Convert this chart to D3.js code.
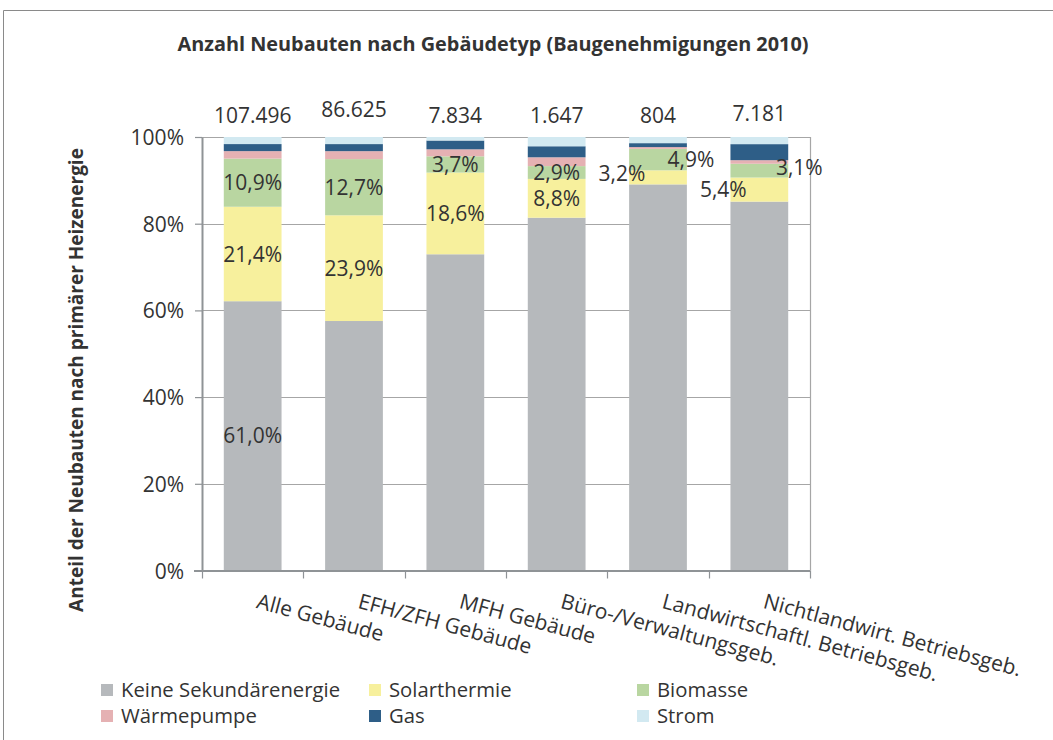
<!DOCTYPE html>
<html><head><meta charset="utf-8">
<script src="https://cdn.jsdelivr.net/npm/d3@7"></script>
<style>
body{margin:0;background:#fff}
text{font-family:'Open Sans',sans-serif;fill:#333}
</style>
</head><body>
<svg id="chart" width="1053" height="740"></svg>
<script>
// ---- data ----
const categories = ["Alle Gebäude","EFH/ZFH Gebäude","MFH Gebäude","Büro-/Verwaltungsgeb.","Landwirtschaftl. Betriebsgeb.","Nichtlandwirt. Betriebsgeb."];
const totals = [107496, 86625, 7834, 1647, 804, 7181];
const seriesNames = ["Keine Sekundärenergie","Solarthermie","Biomasse","Wärmepumpe","Gas","Strom"];
const keine      = [61.0, 56.4, 72.0, 80.0, 88.0, 82.8];
const solar      = [21.4, 23.9, 18.6,  8.8,  3.2,  5.4];
const biomasse   = [10.9, 12.7,  3.7,  2.9,  4.9,  3.1];
const waerme     = [ 1.7,  1.8,  1.6,  2.0,  0.4,  0.8];
const gas        = [ 1.6,  1.6,  2.0,  2.5,  0.9,  3.6];
const strom      = [ 1.6,  1.6,  0.8,  2.1,  1.4,  1.6];
const yTickValues = [0, 0.2, 0.4, 0.6, 0.8, 1.0];
const labelKeine = [true, false, false, false, false, false];
const labelSolar = [true, true, true, true, true, true];
const labelBio   = [true, true, true, true, true, true];

const titleText = "Anzahl Neubauten nach Gebäudetyp (Baugenehmigungen 2010)";
const yTitleText = "Anteil der Neubauten nach primärer Heizenergie";

// ---- styling / layout ----
const colors = ["#b6b9bc","#f7f09d","#b9d6a1","#e5b1b3","#2e5e87","#d2e9f1"];
const labelNudge = {"4|1":[-36,-4], "4|2":[33,0], "5|1":[-36,0], "5|2":[40,-3]};
const totalDy = [0,-6,0,0,0,-2];

const seriesValues = [keine, solar, biomasse, waerme, gas, strom];
const seriesLabels = [labelKeine, labelSolar, labelBio, null, null, null];

const loc = d3.formatLocale({decimal:",", thousands:".", grouping:[3], currency:["","€"]});
const fmtTotal = loc.format(",d");
const fmtPct = v => loc.format(".1f")(v) + "%";

const svg = d3.select("#chart");
const X0 = 202, X1 = 810, Y0 = 570.5, Y1 = 137;

// outer frame
svg.append("path").attr("d","M3.5,740 V10.5 H1053").attr("fill","none").attr("stroke","#8a8a8a").attr("stroke-width",1);

const x = d3.scaleBand().domain(categories).range([X0, X1]).paddingInner(0.43).paddingOuter(0.215);
const y = d3.scaleLinear().domain([0,1]).range([Y0, Y1]);

const rows = categories.map((c,i) => {
  const r = {cat:c};
  seriesNames.forEach((s,k) => r[s] = seriesValues[k][i]);
  return r;
});
const stacked = d3.stack().keys(seriesNames).offset(d3.stackOffsetExpand)(rows);

// gridlines
svg.append("g").selectAll("line").data(yTickValues.filter(d=>d>0)).join("line")
  .attr("x1", X0).attr("x2", X1).attr("y1", d=>Math.round(y(d))+0.5).attr("y2", d=>Math.round(y(d))+0.5)
  .attr("stroke","#a6a6a6").attr("stroke-width",1.2);
// right border of plot
svg.append("line").attr("x1",X1+0.5).attr("x2",X1+0.5).attr("y1",y(1)).attr("y2",Y0)
  .attr("stroke","#a6a6a6").attr("stroke-width",1.2);

// bars
const gBars = svg.append("g");
stacked.forEach((layer, k) => {
  gBars.append("g").attr("fill", colors[k]).selectAll("rect").data(layer).join("rect")
    .attr("x", d => x(d.data.cat))
    .attr("width", x.bandwidth())
    .attr("y", d => y(d[1]))
    .attr("height", d => y(d[0]) - y(d[1]));
});

// y axis
const yAxis = d3.axisLeft(y).tickValues(yTickValues).tickFormat(d3.format(".0%")).tickSizeInner(7).tickSizeOuter(0).tickPadding(11);
const gy = svg.append("g").attr("transform",`translate(${X0},0)`).call(yAxis);
gy.select(".domain").attr("stroke","#8f9396").attr("stroke-width",2);
gy.selectAll(".tick line").attr("stroke","#8f9396").attr("stroke-width",1.2);
gy.selectAll(".tick text").style("font-family","'Open Sans',sans-serif").style("font-size","21px").attr("fill","#333").attr("dy","0.36em");

// x axis line + ticks at band boundaries
const step = x.step();
const bounds = categories.map(c => x(c) - step*x.paddingInner()/2).concat([X1]);
svg.append("line").attr("x1",X0-8).attr("x2",X1).attr("y1",Y0+0.5).attr("y2",Y0+0.5).attr("stroke","#8f9396").attr("stroke-width",2);
svg.append("g").selectAll("line").data(bounds).join("line")
  .attr("x1",d=>Math.round(d)+0.5).attr("x2",d=>Math.round(d)+0.5).attr("y1",Y0).attr("y2",Y0+8)
  .attr("stroke","#8f9396").attr("stroke-width",1.2);

// x labels
svg.append("g").selectAll("text").data(categories).join("text")
  .attr("transform", d => `translate(${x(d)+x.bandwidth()/2+7},${Y0+22}) rotate(15)`)
  .attr("dy","0.75em")
  .style("font-size","21px")
  .text(d=>d);

// segment labels
stacked.forEach((layer,k) => {
  const show = seriesLabels[k];
  if (!show) return;
  layer.forEach((d,i) => {
    if (!show[i]) return;
    const n = labelNudge[i+"|"+k] || [0,0];
    svg.append("text")
      .attr("x", x(d.data.cat) + x.bandwidth()/2 + n[0])
      .attr("y", (y(d[0]) + y(d[1]))/2 + n[1])
      .attr("dy","0.36em")
      .attr("text-anchor","middle")
      .style("font-size","21px")
      .text(fmtPct(seriesValues[k][i]));
  });
});

// totals
svg.append("g").selectAll("text").data(categories).join("text")
  .attr("x", d => x(d) + x.bandwidth()/2)
  .attr("y", (d,i) => 123 + totalDy[i])
  .attr("text-anchor","middle")
  .style("font-size","21px")
  .text((d,i) => fmtTotal(totals[i]));

// title
function fitWidth(sel, w){
  const len = sel.node().getComputedTextLength();
  const fs = parseFloat(sel.style("font-size"));
  sel.style("font-size", (fs*w/len).toFixed(2)+"px");
}
const title = svg.append("text").attr("x",493).attr("y",51).attr("text-anchor","middle")
  .style("font-size","18px").style("font-weight","bold").attr("fill","#262626").text(titleText);
fitWidth(title, 631);

const yTitle = svg.append("text").attr("transform","translate(83,380) rotate(-90)").attr("text-anchor","middle")
  .style("font-size","18px").style("font-weight","bold").attr("fill","#262626").text(yTitleText);
fitWidth(yTitle, 464);

// legend
const legendPos = [[101,690],[369,690],[637,690],[101,716],[369,716],[637,716]];
const lg = svg.append("g").selectAll("g").data(seriesNames).join("g")
  .attr("transform",(d,i)=>`translate(${legendPos[i][0]},${legendPos[i][1]})`);
lg.append("rect").attr("x",0).attr("y",-6).attr("width",12).attr("height",12).attr("fill",(d,i)=>colors[i]);
lg.append("text").attr("x",20).attr("dy","0.36em").style("font-size","20.3px").text(d=>d);
</script>
</body></html>
